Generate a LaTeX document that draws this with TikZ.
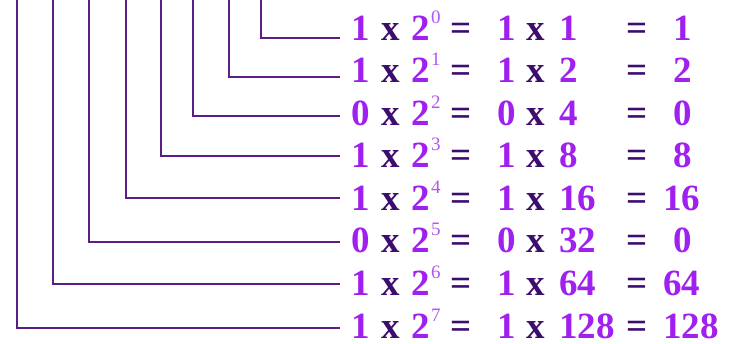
\documentclass[tikz,border=0pt]{standalone}
\usepackage{fontspec}
\setmainfont{Liberation Serif}
\usepackage{tikz}
\usetikzlibrary{positioning, calc}

\definecolor{digitpurple}{RGB}{160, 32, 240}
\definecolor{oppurple}{RGB}{60, 12, 110}
\definecolor{exppurple}{RGB}{178, 86, 240}
\definecolor{wirepurple}{RGB}{92, 30, 132}

\tikzset{
  digit/.style={anchor=base west, inner sep=0pt, text=digitpurple, font=\fontsize{37}{37}\selectfont\bfseries},
  oper/.style={digit, text=oppurple},
  expo/.style={anchor=base west, inner sep=0pt, text=exppurple, font=\fontsize{19}{19}\selectfont},
  wire/.style={draw=wirepurple, line width=1.8pt},
}

\begin{document}
\begin{tikzpicture}[x=1pt, y=-1pt]
  \useasboundingbox (0,0) rectangle (738,344);

  % one row per bit, lowest bit on top
  \foreach \r/\wx/\wy/\bit/\val/\res/\rx in {
      0/260.7/38.3/1/1/1/673,
      1/229.3/76.7/1/2/2/673,
      2/193.3/115.7/0/4/0/673,
      3/161.3/156/1/8/8/673,
      4/126/198/1/16/16/663,
      5/89.3/242/0/32/0/673,
      6/53.3/283.7/1/64/64/663,
      7/17.3/328/1/128/128/663}{
    \pgfmathsetmacro{\by}{40.5+42.5*\r}

    % wire from the top edge to the row
    \coordinate (top\r) at (\wx, 0);
    \coordinate (end\r) at (340, \wy);
    \draw[wire] (top\r) |- (end\r);

    % bit x 2^r = bit x value = result
    \node[digit] (bit\r) at (351, \by) {\bit};
    \node[oper] (times\r) at (381, \by) {x};
    \node[digit] (base\r) at (411, \by) {2};
    \node[expo] (exp\r) at (431, \by-17) {\r};
    \node[oper] (eqa\r) at (450, \by) {=};
    \node[digit] (bitb\r) at (497, \by) {\bit};
    \node[oper] (timesb\r) at (526, \by) {x};
    \node[digit] (val\r) at (559, \by) {\val};
    \node[oper] (eqb\r) at (626, \by) {=};
    \node[digit] (res\r) at (\rx, \by) {\res};
  }
\end{tikzpicture}
\end{document}
